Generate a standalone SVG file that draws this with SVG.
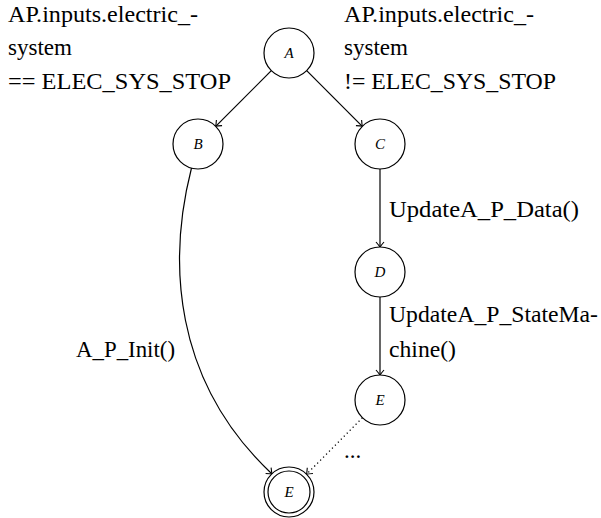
<svg xmlns="http://www.w3.org/2000/svg" width="601" height="518" viewBox="0 0 601 518">
<defs>
<style>
.lbl{font-size:23px;fill:#000}
.nl{font-size:15px;font-style:italic;fill:#000;text-anchor:middle}
.node{fill:#fff;stroke:#000;stroke-width:1.2}
.edge{fill:none;stroke:#000;stroke-width:1.2}
.dot{fill:none;stroke:#000;stroke-width:1.3;stroke-dasharray:1.2 3}
</style>
<marker id="arr" viewBox="-6 -5 8 10" markerWidth="8" markerHeight="10" refX="0" refY="0" orient="auto" markerUnits="userSpaceOnUse">
<path d="M-5,-4 Q-1.5,-1 0,0 Q-1.5,1 -5,4" fill="none" stroke="#000" stroke-width="1.1"/>
</marker>
</defs>
<rect width="601" height="518" fill="#fff"/>
<g id="edges" font-family="Liberation Serif, serif">
<line class="edge" x1="271.3" y1="70.7" x2="215.7" y2="126.3" marker-end="url(#arr)"/>
<line class="edge" x1="306.7" y1="70.7" x2="362.3" y2="126.3" marker-end="url(#arr)"/>
<line class="edge" x1="380" y1="169" x2="380" y2="247" marker-end="url(#arr)"/>
<line class="edge" x1="380" y1="297" x2="380" y2="375" marker-end="url(#arr)"/>
<path class="edge" d="M191.5,168 C168,260 172,380 272,474" marker-end="url(#arr)"/>
<line class="dot" x1="362.4" y1="417.8" x2="306.6" y2="474.2" marker-end="url(#arr)"/>
<text class="lbl" x="8" y="22" textLength="190" lengthAdjust="spacingAndGlyphs">AP.inputs.electric_-</text>
<text class="lbl" x="8" y="55" textLength="64" lengthAdjust="spacingAndGlyphs">system</text>
<text class="lbl" x="8" y="89" textLength="223" lengthAdjust="spacingAndGlyphs">== ELEC_SYS_STOP</text>
<text class="lbl" x="344" y="22" textLength="190" lengthAdjust="spacingAndGlyphs">AP.inputs.electric_-</text>
<text class="lbl" x="344" y="55" textLength="64" lengthAdjust="spacingAndGlyphs">system</text>
<text class="lbl" x="344" y="89" textLength="212" lengthAdjust="spacingAndGlyphs">!= ELEC_SYS_STOP</text>
<text class="lbl" x="389" y="217" textLength="190" lengthAdjust="spacingAndGlyphs">UpdateA_P_Data()</text>
<text class="lbl" x="389" y="322" textLength="209" lengthAdjust="spacingAndGlyphs">UpdateA_P_StateMa-</text>
<text class="lbl" x="389" y="357" textLength="67" lengthAdjust="spacingAndGlyphs">chine()</text>
<text class="lbl" x="76" y="357" textLength="99" lengthAdjust="spacingAndGlyphs">A_P_Init()</text>
<text class="lbl" x="344" y="458">...</text>
</g>
<g font-family="Liberation Serif, serif">
<g id="A"><circle class="node" cx="289" cy="53" r="25"/><text class="nl" x="289" y="58">A</text></g>
<g id="B"><circle class="node" cx="198" cy="144" r="25"/><text class="nl" x="198" y="149">B</text></g>
<g id="C"><circle class="node" cx="380" cy="144" r="25"/><text class="nl" x="380" y="149">C</text></g>
<g id="D"><circle class="node" cx="380" cy="272" r="25"/><text class="nl" x="380" y="277">D</text></g>
<g id="E1"><circle class="node" cx="380" cy="400" r="25"/><text class="nl" x="380" y="405">E</text></g>
<g id="E2"><circle class="node" cx="289" cy="492" r="25"/><circle class="node" cx="289" cy="492" r="21"/><text class="nl" x="289" y="497">E</text></g>
</g>
</svg>
